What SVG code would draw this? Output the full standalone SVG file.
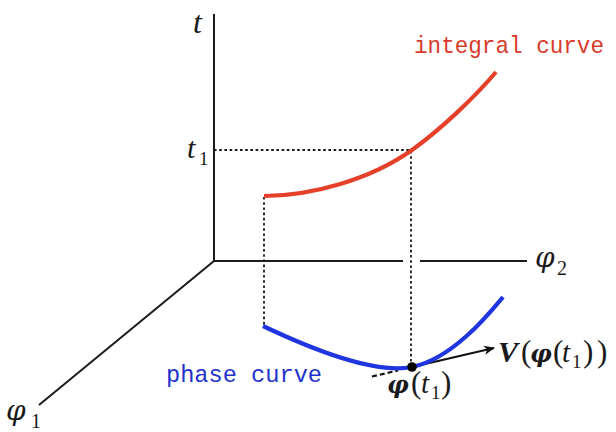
<svg xmlns="http://www.w3.org/2000/svg" width="616" height="432" viewBox="0 0 616 432">
<style>
.axis{stroke:#1a1a1a;stroke-width:2;fill:none}
.dot{stroke:#1a1a1a;stroke-width:1.8;stroke-dasharray:2.6 2.6;fill:none}
.math{font-family:"Liberation Serif","DejaVu Serif",serif;font-style:italic;fill:#1a1a1a}
.phi{font-family:"DejaVu Serif","Liberation Serif",serif;font-style:italic;fill:#1a1a1a}
.num{font-family:"Liberation Serif","DejaVu Serif",serif;font-style:normal;fill:#1a1a1a}
.tt{font-family:"Liberation Mono","DejaVu Sans Mono",monospace}
</style>
<defs>
<marker id="arr" viewBox="0 0 12 10" refX="10" refY="5" markerWidth="12" markerHeight="10" markerUnits="userSpaceOnUse" orient="auto">
<path d="M0,0.5 L11,5 L0,9.5 L3,5 Z" fill="#111"/>
</marker>
</defs>
<rect width="616" height="432" fill="#fff"/>
<g id="axes">
<line class="axis" x1="214" y1="14" x2="214" y2="262"/>
<line class="axis" x1="213" y1="261" x2="403" y2="261"/>
<line class="axis" x1="420" y1="261" x2="527" y2="261"/>
<line class="axis" x1="214" y1="261" x2="39" y2="405"/>
</g>
<g id="connectors">
<line class="dot" x1="214" y1="150" x2="411" y2="150"/>
<line class="dot" x1="264" y1="197" x2="264" y2="325"/>
<line class="dot" x1="411" y1="151" x2="411" y2="366"/>
<line x1="372" y1="376.5" x2="398" y2="370.5" stroke="#111" stroke-width="2.2" stroke-dasharray="5 3"/>
<line x1="412" y1="367" x2="494" y2="348" stroke="#111" stroke-width="2" marker-end="url(#arr)"/>
</g>
<g id="integral-curve">
<path d="M264,196 C310,196 370,180 412,150 C440,130 475,97 496,72" fill="none" stroke="#e4402a" stroke-width="4.2"/>
</g>
<g id="phase-curve">
<path d="M263,326 C303,345 372,375 412,367 C452,359 488,315 503,297" fill="none" stroke="#1f35e0" stroke-width="4.2"/>
<circle cx="412" cy="367" r="4.8" fill="#000"/>
</g>
<g id="labels">
<text class="math" x="193" y="33" font-size="32">t</text>
<text class="math" x="187" y="158" font-size="30">t</text><text class="num" x="199" y="165" font-size="19">1</text>
<text class="phi" x="535" y="267" font-size="28">φ</text><text class="num" x="557" y="275" font-size="20">2</text>
<text class="phi" x="6" y="420" font-size="28">φ</text><text class="num" x="31" y="428" font-size="20">1</text>
<text class="tt" x="414" y="53" font-size="24" fill="#d83b2b" textLength="190" lengthAdjust="spacingAndGlyphs">integral curve</text>
<text class="tt" x="166" y="382" font-size="24" fill="#2233cc" textLength="156" lengthAdjust="spacingAndGlyphs">phase curve</text>
<g id="label-V">
<text class="math" x="498" y="362" font-size="30" font-weight="bold">V</text>
<text class="num" x="521" y="362" font-size="31">(</text>
<text class="phi" x="530" y="362" font-size="24" font-weight="bold">φ</text>
<text class="num" x="553" y="362" font-size="31">(</text>
<text class="math" x="562" y="362" font-size="29">t</text>
<text class="num" x="572" y="368" font-size="19">1</text>
<text class="num" x="583" y="362" font-size="31">)</text>
<text class="num" x="597" y="362" font-size="31">)</text>
</g>
<g id="label-phi">
<text class="phi" x="387" y="393" font-size="24" font-weight="bold">φ</text>
<text class="num" x="411" y="393" font-size="31">(</text>
<text class="math" x="421" y="393" font-size="29">t</text>
<text class="num" x="431" y="399" font-size="19">1</text>
<text class="num" x="441" y="393" font-size="31">)</text>
</g>
</g>
</svg>
